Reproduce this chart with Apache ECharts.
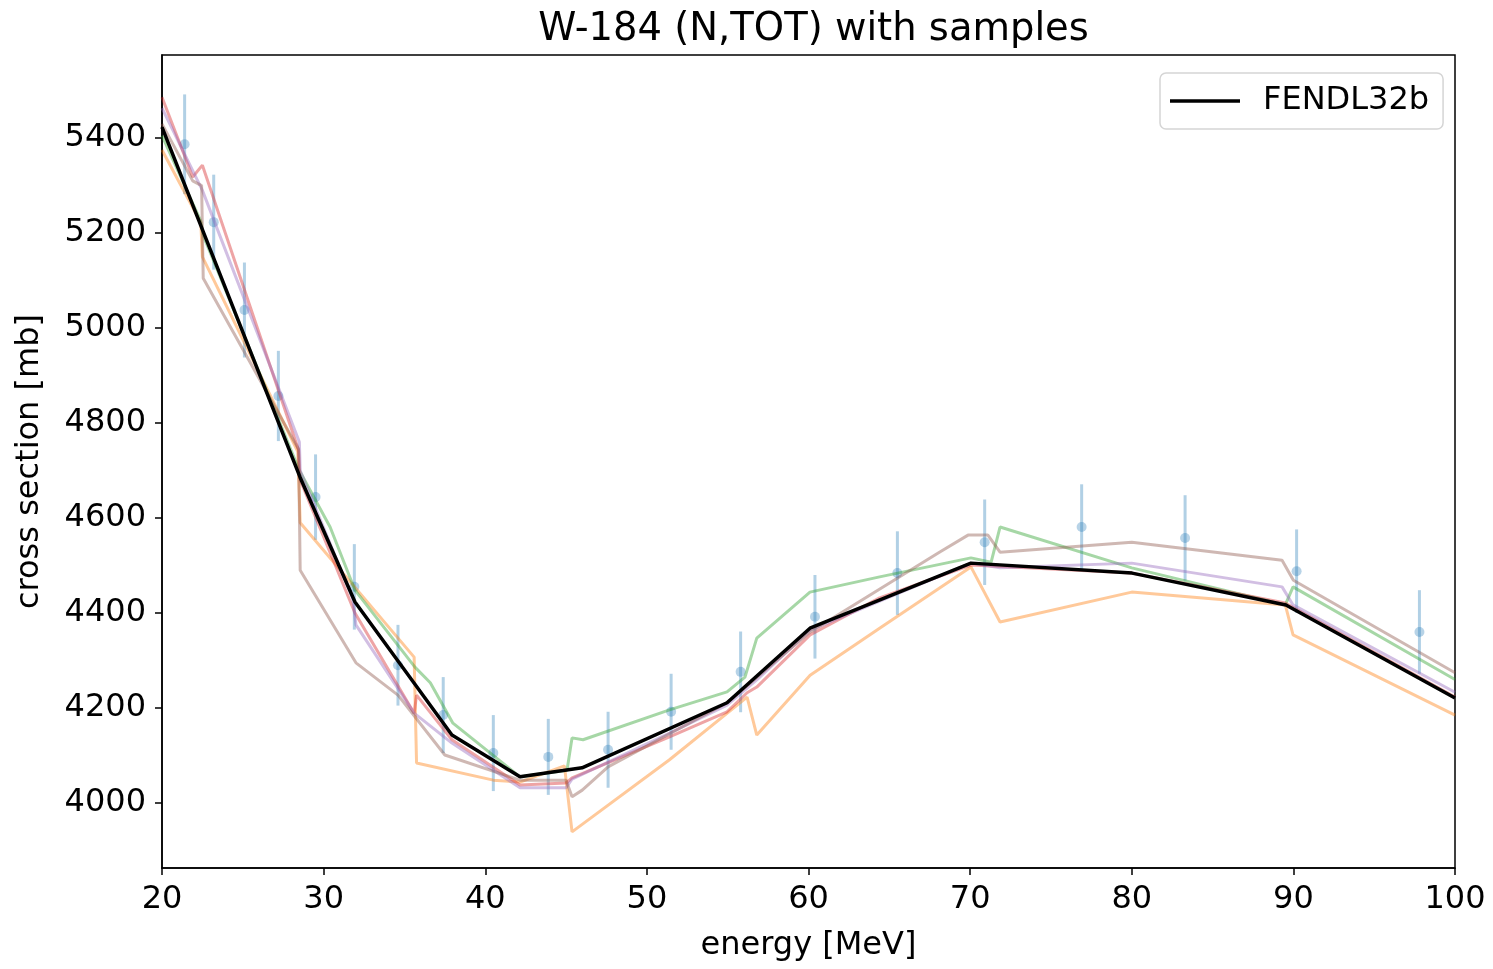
<!DOCTYPE html>
<html>
<head>
<meta charset="utf-8">
<script src="https://cdn.jsdelivr.net/npm/echarts@6/dist/echarts.min.js"></script>
<style>
html,body{margin:0;padding:0;background:#fff;}
#chart{width:1493px;height:969px;}
</style>
</head>
<body>
<div id="chart"></div>
<script>
// ---- data (energy [MeV], cross section [mb]) ----
var titleText = 'W-184 (N,TOT) with samples';
var xTicks = [20, 30, 40, 50, 60, 70, 80, 90, 100];
var yTicks = [4000, 4200, 4400, 4600, 4800, 5000, 5200, 5400];

var expEnergy = [21.4, 23.2, 25.1, 27.2, 29.5, 31.9, 34.6, 37.4, 40.5, 43.9, 47.6, 51.5, 55.8, 60.4, 65.5, 70.9, 76.9, 83.3, 90.2, 97.8];
var expValue  = [5387, 5223, 5038, 4857, 4644, 4455, 4290, 4185, 4105, 4097, 4112, 4192, 4276, 4392, 4484, 4549, 4581, 4558, 4488, 4360];
var expError  = [105, 100, 100, 95, 90, 90, 85, 80, 80, 80, 80, 80, 85, 88, 88, 90, 90, 90, 88, 88];

var fendl = [[20,5423],[28.54,4686],[31.94,4423],[37.94,4143],[42.15,4055],[45.99,4074],[54.96,4211],[60.09,4368],[70.05,4505],[80.02,4484],[89.54,4417],[100,4221]];

var sampleOrange = [[20,5375],[22.4,5222],[22.5,5150],[28.4,4740],[28.55,4590],[35.6,4307],[35.75,4084],[40.5,4048],[42.15,4044],[44.9,4078],[45.37,3939],[51.4,4091],[56.2,4223],[56.8,4143],[60.1,4269],[64.4,4368],[70.05,4497],[71.85,4381],[80,4444],[89.5,4417],[89.98,4354],[100,4185]];
var sampleGreen = [[20,5405],[22.4,5225],[22.55,5195],[28.5,4700],[30.4,4581],[31.94,4448],[35.65,4286],[36.6,4253],[38,4168],[42.15,4055],[45.06,4069],[45.37,4137],[46.05,4133],[51.4,4196],[54.96,4234],[56.07,4265],[56.8,4347],[60.09,4444],[64.4,4476],[70.05,4516],[71.3,4507],[71.85,4581],[80,4495],[89.5,4417],[89.98,4455],[100,4260]];
var sampleRed = [[20,5486],[21.9,5318],[22.5,5343],[28.45,4743],[28.55,4680],[31.94,4400],[35.6,4189],[35.75,4227],[37.94,4133],[42.15,4038],[45,4042],[45.37,4053],[51.4,4139],[54.96,4192],[56.2,4232],[56.8,4244],[60.1,4354],[64.4,4432],[70.05,4501],[80,4484],[89.5,4421],[100,4223]];
var samplePurple = [[20,5463],[22.5,5290],[28.5,4760],[28.55,4700],[31.8,4430],[32,4375],[35.6,4189],[37.94,4126],[42.15,4032],[45,4032],[45.37,4050],[51.4,4147],[54.96,4206],[56.8,4259],[60.1,4364],[70.05,4505],[71.85,4495],[80,4505],[89.3,4455],[89.98,4417],[100,4233]];
var sampleBrown = [[20,5430],[21.9,5310],[22.45,5300],[22.55,5105],[28.45,4745],[28.55,4490],[32,4295],[34.6,4227],[37.5,4101],[42.15,4048],[45,4048],[45.37,4013],[46,4027],[47.6,4076],[54.96,4211],[60.1,4360],[68.1,4528],[69.87,4564],[71.1,4564],[71.85,4528],[80,4549],[89.3,4511],[90,4469],[100,4274]];

// ---- chart ----
var FONT = 'DejaVu Sans';
var chart = echarts.init(document.getElementById('chart'), null, {renderer: 'canvas'});

var expData = expEnergy.map(function (e, i) { return [e, expValue[i], expError[i]]; });

function sample(data, color) {
  return {
    type: 'line', data: data, symbol: 'none', silent: true, z: 2,
    lineStyle: {color: color, width: 3, opacity: 0.42},
    itemStyle: {color: color}
  };
}

var option = {
  animation: false,
  backgroundColor: '#ffffff',
  title: {
    text: titleText, left: 808.5, top: 5, textAlign: 'center',
    textStyle: {fontFamily: FONT, fontSize: 38.5, fontWeight: 'normal', color: '#000'}
  },
  grid: {left: 162, right: 38, top: 55, bottom: 101, show: true, borderColor: '#000', borderWidth: 1.5, containLabel: false},
  legend: {
    left: 1160, top: 73,
    data: [{name: 'FENDL32b', icon: 'path://M0,0 L70,0 L70,3.5 L0,3.5 Z'}],
    itemWidth: 70, itemHeight: 3.5,
    padding: [12, 14, 12, 10],
    backgroundColor: '#fff', borderColor: '#d5d5d5', borderWidth: 1.5, borderRadius: 6,
    textStyle: {fontFamily: FONT, fontSize: 32, color: '#000', padding: [0, 0, 0, 18]}
  },
  xAxis: {
    type: 'value', min: 20, max: 100, interval: 10,
    name: 'energy [MeV]', nameLocation: 'middle', nameGap: 62,
    nameTextStyle: {fontFamily: FONT, fontSize: 32, color: '#000'},
    axisLine: {show: true, onZero: false, lineStyle: {color: '#000', width: 1.5}},
    axisTick: {show: true, inside: false, length: 7, lineStyle: {color: '#000', width: 1.5}},
    axisLabel: {fontFamily: FONT, fontSize: 32, color: '#000', margin: 16, showMinLabel: true, showMaxLabel: true},
    splitLine: {show: false}
  },
  yAxis: {
    type: 'value', min: 3863, max: 5575,
    name: 'cross section [mb]', nameLocation: 'middle', nameGap: 116, nameRotate: 90,
    nameTextStyle: {fontFamily: FONT, fontSize: 32, color: '#000'},
    axisLine: {show: true, onZero: false, lineStyle: {color: '#000', width: 1.5}},
    axisTick: {show: true, inside: false, length: 7, lineStyle: {color: '#000', width: 1.5}, customValues: yTicks},
    axisLabel: {fontFamily: FONT, fontSize: 32, color: '#000', margin: 16, customValues: yTicks,
                formatter: function (v) { return String(Math.round(v)); }},
    splitLine: {show: false}
  },
  series: [
    {
      type: 'custom', name: 'errors', silent: true, z: 1,
      data: expData,
      renderItem: function (params, api) {
        var x = api.value(0), v = api.value(1), e = api.value(2);
        var p1 = api.coord([x, v - e]);
        var p2 = api.coord([x, v + e]);
        return {type: 'line', shape: {x1: p1[0], y1: p1[1], x2: p2[0], y2: p2[1]},
                style: {stroke: 'rgba(31,119,180,0.35)', lineWidth: 3}};
      }
    },
    {
      type: 'scatter', name: 'exp', silent: true, z: 1,
      data: expData.map(function (d) { return [d[0], d[1]]; }),
      symbol: 'circle', symbolSize: 10,
      itemStyle: {color: 'rgba(31,119,180,0.4)'}
    },
    sample(sampleOrange, '#ff7f0e'),
    sample(sampleGreen, '#2ca02c'),
    sample(sampleRed, '#d62728'),
    sample(samplePurple, '#9467bd'),
    sample(sampleBrown, '#8c564b'),
    {
      type: 'line', name: 'FENDL32b', data: fendl, symbol: 'none', silent: true, z: 5,
      lineStyle: {color: '#000', width: 3.5},
      itemStyle: {color: '#000'}
    }
  ]
};
chart.setOption(option);
</script>
</body>
</html>
